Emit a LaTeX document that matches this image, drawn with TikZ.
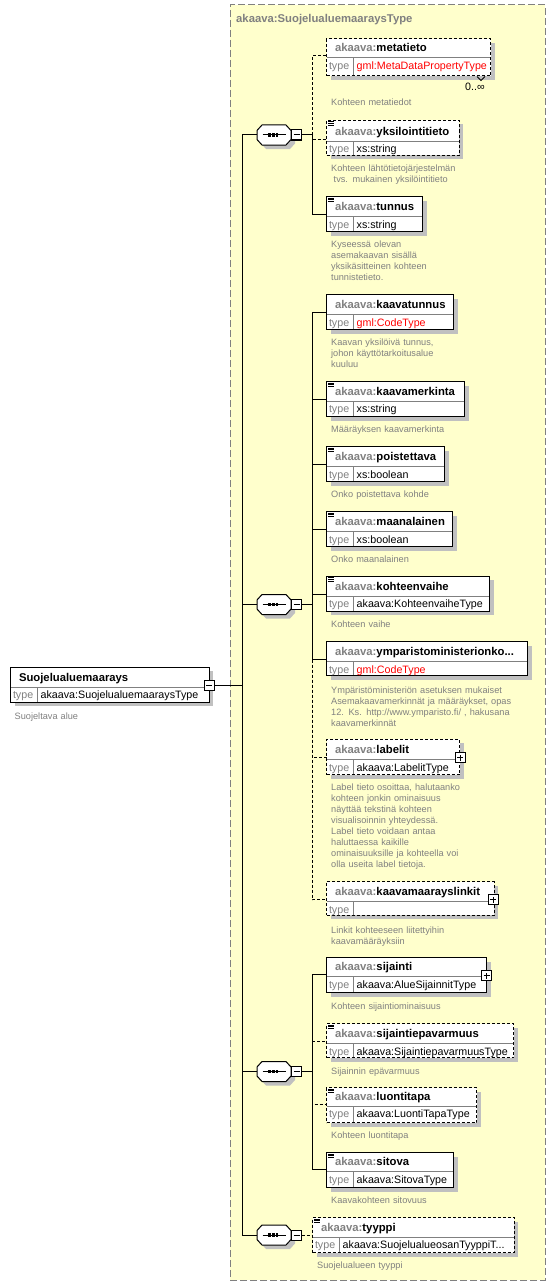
\documentclass[tikz,border=0pt]{standalone}
\usepackage{fontspec}
\setmainfont{Liberation Sans}
\usetikzlibrary{fit}
\definecolor{ybg}{HTML}{FFFFCC}
\definecolor{gtxt}{HTML}{808080}
\definecolor{shad}{HTML}{C0C0C0}
\definecolor{rtxt}{HTML}{FF0000}
\newcommand\nmfont{\fontsize{11.3}{13}\selectfont\bfseries}
\newcommand\tyfont{\fontsize{10.7}{13}\selectfont}
\newcommand\dsfont{\fontsize{9.2}{11}\selectfont}
\newcommand\pfx{\textcolor{gtxt}{akaava:}}
\newcommand\red[1]{\textcolor{rtxt}{#1}}
\tikzset{
  elb/.style={draw=black, line width=1pt, fill=white, inner sep=0pt, outer sep=0pt},
  opt/.style={dash pattern=on 3pt off 2pt},
  conn/.style={line width=1pt, draw=black},
  divl/.style={line width=1pt, draw=gtxt},
  lbl/.style={anchor=base west, inner sep=0pt},
  desc/.style={font=\dsfont, text=gtxt, anchor=base west, inner sep=0pt, text width=230pt, align=left},
  pmbox/.style={draw=black, line width=1pt, fill=white, minimum size=10pt, inner sep=0pt, outer sep=0pt},
}
% id,left,top,right,div,bottom,name,type,style
\newcommand\elbox[9]{%
  \fill[shad] ({#2+4},{#3+4}) rectangle ({#4+4},{#6+4});
  \node[elb, #9, fit={(#2,#3) (#4,#6)}] (#1) {};
  \draw[divl] ({#2+0.5},#5) -- ({#4-0.5},#5);
  \draw[divl] ({#2+27},#5) -- ({#2+27},{#6-0.5});
  \node[lbl, font=\nmfont] (#1-n) at ({#2+8.3},{#5-6}) {#7};
  \node[lbl, font=\tyfont, text=gtxt] (#1-tl) at ({#2+2.3},{#5+11.5}) {type};
  \node[lbl, font=\tyfont] (#1-tv) at ({#2+30},{#5+11.5}) {#8};
  \coordinate (#1-in) at (#2,{#5-2});
}
\newcommand\sicon[2]{%
  \draw[line width=0.8pt] ({#1+1.8},{#2+1.4}) -- ({#1+7.3},{#2+1.4});
  \draw[line width=0.8pt] ({#1+1.8},{#2+3.3}) -- ({#1+7.3},{#2+3.3});
  \draw[line width=0.8pt] ({#1+1.8},{#2+5.2}) -- ({#1+7.3},{#2+5.2});
}
\newcommand\plusbox[3]{%
  \node[pmbox] (#1) at (#2,#3) {};
  \draw[line width=1pt] ([xshift=-3pt]#1.center) -- ([xshift=3pt]#1.center);
  \draw[line width=1pt] ([yshift=-3pt]#1.center) -- ([yshift=3pt]#1.center);
}
\newcommand\minusbox[3]{%
  \node[pmbox] (#1) at (#2,#3) {};
  \draw[line width=1pt] ([xshift=-3pt]#1.center) -- ([xshift=3pt]#1.center);
}
\newcommand\octpath[1]{(257,{#1-4.5}) -- (262,{#1-10}) -- (286,{#1-10}) -- (291,{#1-4.5}) -- (291,{#1+4.5}) -- (286,{#1+10}) -- (262,{#1+10}) -- (257,{#1+4.5}) -- cycle}
\newcommand\seqc[2]{%
  \fill[shad, shift={(4,4)}] \octpath{#2};
  \draw[fill=white, line width=1pt] \octpath{#2};
  \node[inner sep=0pt, minimum width=34pt, minimum height=20pt] (#1) at (274,#2) {};
  \draw[line width=1pt] (262.5,#2) -- (285.5,#2);
  \fill (268.3,{#2-1.6}) rectangle (270.9,{#2+1.6});
  \fill (271.9,{#2-1.6}) rectangle (274.5,{#2+1.6});
  \fill (275.5,{#2-1.6}) rectangle (278.1,{#2+1.6});
  \minusbox{#1-m}{296.5}{#2}
}
\newcommand\dsc[4]{\node[desc] (#1) at (#2,#3) {#4};}
\begin{document}
\begin{tikzpicture}[x=1pt,y=-1pt]
\useasboundingbox (0,0) rectangle (556,1287);
\fill[white] (0,0) rectangle (556,1287);
% complex type container
\node[fit={(230,5) (545,1280)}, inner sep=0pt, fill=ybg, draw=gtxt, line width=1pt, dash pattern=on 7pt off 3pt] (ctype) {};
\node[lbl, font=\nmfont, text=gtxt] (ctitle) at (236,23) {akaava:SuojelualuemaaraysType};

% bus coordinates
\coordinate (m1) at (242,135);
\coordinate (m2) at (242,604.5);
\coordinate (m3) at (242,1071.5);
\coordinate (m4) at (242,1235);
\coordinate (mr) at (242,685.5);
\coordinate (b1) at (312,135);
\coordinate (b2) at (312,604.5);
\coordinate (b3) at (312,1071.5);

% root element
\elbox{root}{10.5}{667}{209}{687}{702}{Suojelualuemaarays}{akaava:SuojelualuemaaraysType}{solid}
\dsc{root-d}{14.5}{719}{Suojeltava alue}

% sequences
\draw[conn] (m1) -- (m4);
\seqc{seq1}{135}
\seqc{seq2}{604.5}
\seqc{seq3}{1071.5}
\seqc{seq4}{1235}
\draw[conn] (m1) -- (seq1.west);
\draw[conn] (m2) -- (seq2.west);
\draw[conn] (m3) -- (seq3.west);
\draw[conn] (m4) -- (seq4.west);
\minusbox{root-m}{209.3}{685.5}
\draw[conn] (root-m.east) -- (mr);
\draw[conn] (seq1-m.east) -- (b1);
\draw[conn] (seq2-m.east) -- (b2);
\draw[conn] (seq3-m.east) -- (b3);

% elements of sequence 1
\elbox{metatieto}{326.5}{39}{490.5}{58}{76}{\pfx metatieto}{\red{gml:MetaDataPropertyType}}{opt}
\draw[line width=0.8pt] (477,76.5) -- (481,80.5) -- (485,76.5);
\node[lbl, font=\tyfont] (metatieto-occ) at (465,90.5) {0..∞};
\dsc{metatieto-d}{331}{106}{Kohteen metatiedot}
\elbox{yksilointitieto}{326.5}{120.5}{459}{141.5}{155}{\pfx yksilointitieto}{xs:string}{opt}
\sicon{326.5}{120.5}
\dsc{yksilointitieto-d}{331}{171}{Kohteen lähtötietojärjestelmän\\\hspace*{2.5pt}tvs. mukainen yksilöintitieto}
\elbox{tunnus}{326.5}{196.5}{422.5}{216.5}{231.5}{\pfx tunnus}{xs:string}{solid}
\sicon{326.5}{196.5}
\dsc{tunnus-d}{331}{247}{Kyseessä olevan\\asemakaavan sisällä\\yksikäsitteinen kohteen\\tunnistetieto.}
\draw[conn, opt] (b1) |- (metatieto-in);
\draw[conn, opt] (b1) |- (yksilointitieto-in);
\draw[conn] (b1) |- (tunnus-in);

% elements of sequence 2
\elbox{kaavatunnus}{326.5}{294.5}{453.5}{314.5}{329.5}{\pfx kaavatunnus}{\red{gml:CodeType}}{solid}
\dsc{kaavatunnus-d}{331}{345.5}{Kaavan yksilöivä tunnus,\\johon käyttötarkoitusalue\\kuuluu}
\elbox{kaavamerkinta}{326.5}{381.5}{464.5}{401}{416.5}{\pfx kaavamerkinta}{xs:string}{solid}
\sicon{326.5}{381.5}
\dsc{kaavamerkinta-d}{331}{432}{Määräyksen kaavamerkinta}
\elbox{poistettava}{326.5}{446.5}{444.5}{466.5}{481.5}{\pfx poistettava}{xs:boolean}{solid}
\sicon{326.5}{446.5}
\dsc{poistettava-d}{331}{497}{Onko poistettava kohde}
\elbox{maanalainen}{326.5}{511.5}{452.5}{531.5}{546.5}{\pfx maanalainen}{xs:boolean}{solid}
\sicon{326.5}{511.5}
\dsc{maanalainen-d}{331}{562}{Onko maanalainen}
\elbox{kohteenvaihe}{326.5}{576}{489.5}{596}{611}{\pfx kohteenvaihe}{akaava:KohteenvaiheType}{solid}
\sicon{326.5}{576}
\dsc{kohteenvaihe-d}{331}{627}{Kohteen vaihe}
\elbox{ympko}{326.5}{641.5}{527.5}{661.5}{675.5}{\pfx ymparistoministerionko...}{\red{gml:CodeType}}{solid}
\dsc{ympko-d}{331}{693}{Ympäristöministeriön asetuksen mukaiset\\Asemakaavamerkinnät ja määräykset, opas\\12. Ks. http://www.ymparisto.fi/ , hakusana\\kaavamerkinnät}
\elbox{labelit}{326.5}{739}{459.5}{759.5}{774.5}{\pfx labelit}{akaava:LabelitType}{opt}
\plusbox{labelit-p}{460}{757.5}
\dsc{labelit-d}{331}{790.5}{Label tieto osoittaa, halutaanko\\kohteen jonkin ominaisuus\\näyttää tekstinä kohteen\\visualisoinnin yhteydessä.\\Label tieto voidaan antaa\\haluttaessa kaikille\\ominaisuuksille ja kohteella voi\\olla useita label tietoja.}
\elbox{linkit}{326.5}{881.5}{494}{901.5}{915}{\pfx kaavamaarayslinkit}{}{opt}
\plusbox{linkit-p}{493}{899.5}
\dsc{linkit-d}{331}{933}{Linkit kohteeseen liitettyihin\\kaavamääräyksiin}
\draw[conn, opt] (b2) |- (labelit-in);
\draw[conn, opt] (b2) |- (linkit-in);
\draw[conn] (b2) |- (kaavatunnus-in);
\draw[conn] (b2) |- (kaavamerkinta-in);
\draw[conn] (b2) |- (poistettava-in);
\draw[conn] (b2) |- (maanalainen-in);
\draw[conn] (b2) |- (kohteenvaihe-in);
\draw[conn] (b2) |- (ympko-in);

% elements of sequence 3
\elbox{sijainti}{326.5}{957.5}{486.5}{976.5}{992.5}{\pfx sijainti}{akaava:AlueSijainnitType}{solid}
\plusbox{sijainti-p}{486.5}{975.5}
\dsc{sijainti-d}{331}{1009}{Kohteen sijaintiominaisuus}
\elbox{sijepav}{326.5}{1023.5}{513.5}{1043.5}{1057.5}{\pfx sijaintiepavarmuus}{akaava:SijaintiepavarmuusType}{opt}
\sicon{326.5}{1023.5}
\dsc{sijepav-d}{331}{1074}{Sijainnin epävarmuus}
\elbox{luontitapa}{326.5}{1087.5}{476.5}{1106}{1122.5}{\pfx luontitapa}{akaava:LuontiTapaType}{opt}
\sicon{326.5}{1087.5}
\dsc{luontitapa-d}{331}{1138}{Kohteen luontitapa}
\elbox{sitova}{326.5}{1152.5}{453.5}{1171.5}{1187.5}{\pfx sitova}{akaava:SitovaType}{solid}
\sicon{326.5}{1152.5}
\dsc{sitova-d}{331}{1203}{Kaavakohteen sitovuus}
\draw[conn, opt] (b3) |- (sijepav-in);
\draw[conn, opt] (b3) |- (luontitapa-in);
\draw[conn] (b3) |- (sijainti-in);
\draw[conn] (b3) |- (sitova-in);

% sequence 4
\elbox{tyyppi}{312.5}{1217.5}{514}{1237}{1252.5}{\pfx tyyppi}{akaava:SuojelualueosanTyyppiT...}{opt}
\sicon{312.5}{1217.5}
\dsc{tyyppi-d}{317}{1268}{Suojelualueen tyyppi}
\draw[conn, opt] (seq4-m.east) -- (tyyppi-in);
\end{tikzpicture}
\end{document}
